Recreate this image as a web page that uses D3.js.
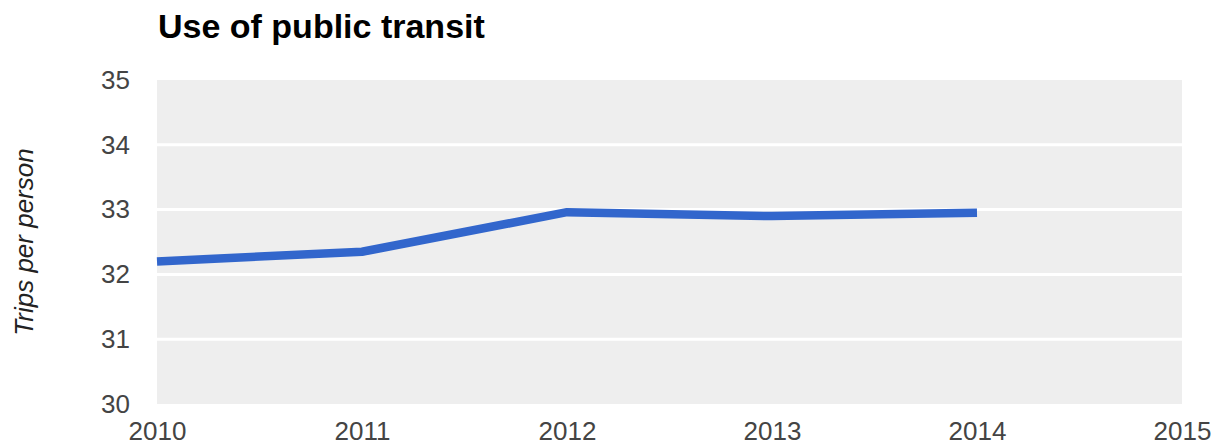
<!DOCTYPE html>
<html>
<head>
<meta charset="utf-8">
<script src="https://cdn.jsdelivr.net/npm/d3@7"></script>
<style>
  body { margin: 0; background: #fff; }
  text { font-family: "Liberation Sans", Arial, sans-serif; }
</style>
</head>
<body>
<svg width="1212" height="446"></svg>
<script>
var years = [2010, 2011, 2012, 2013, 2014];
var trips = [32.2, 32.35, 32.96, 32.9, 32.95];
var yTicks = [30, 31, 32, 33, 34, 35];
var xTicks = [2010, 2011, 2012, 2013, 2014, 2015];

var svg = d3.select('svg');
var plotLeft = 157, plotRight = 1182, plotTop = 80, plotBottom = 404;

var x = d3.scaleLinear().domain([2010, 2015]).range([plotLeft, plotRight]);
var y = d3.scaleLinear().domain([30, 35]).range([plotBottom, plotTop]);

svg.append('rect')
  .attr('x', plotLeft).attr('y', plotTop)
  .attr('width', plotRight - plotLeft).attr('height', plotBottom - plotTop)
  .attr('fill', '#eeeeee');

// gridlines
svg.selectAll('.grid')
  .data(yTicks.slice(1, -1))
  .enter()
  .append('line')
  .attr('x1', plotLeft).attr('x2', plotRight)
  .attr('y1', function(d) { return y(d); })
  .attr('y2', function(d) { return y(d); })
  .attr('stroke', '#fff')
  .attr('stroke-width', 3);

var yAxis = d3.axisLeft(y).tickValues(yTicks).tickFormat(d3.format('d')).tickSize(0).tickPadding(27);
svg.append('g')
  .attr('transform', 'translate(' + plotLeft + ',0)')
  .call(yAxis)
  .call(function(g) { g.select('.domain').remove(); })
  .selectAll('text')
  .attr('font-size', 26)
  .attr('fill', '#444')
  .attr('font-family', '"Liberation Sans", Arial, sans-serif');

var xAxis = d3.axisBottom(x).tickValues(xTicks).tickFormat(d3.format('d')).tickSize(0).tickPadding(18);
svg.append('g')
  .attr('transform', 'translate(0,' + plotBottom + ')')
  .call(xAxis)
  .call(function(g) { g.select('.domain').remove(); })
  .selectAll('text')
  .attr('font-size', 26)
  .attr('fill', '#444')
  .attr('font-family', '"Liberation Sans", Arial, sans-serif');

var line = d3.line()
  .x(function(d, i) { return x(years[i]); })
  .y(function(d) { return y(d); });

svg.append('path')
  .datum(trips)
  .attr('d', line)
  .attr('fill', 'none')
  .attr('stroke', '#3266cc')
  .attr('stroke-width', 8.5)
  .attr('stroke-linejoin', 'round');

svg.append('text')
  .attr('x', plotLeft + 1).attr('y', 38)
  .attr('font-size', 34)
  .attr('font-weight', 'bold')
  .attr('fill', '#000')
  .text('Use of public transit');

svg.append('text')
  .attr('transform', 'translate(33,' + ((plotTop + plotBottom) / 2) + ') rotate(-90)')
  .attr('text-anchor', 'middle')
  .attr('font-size', 26)
  .attr('font-style', 'italic')
  .attr('fill', '#222')
  .text('Trips per person');
</script>
</body>
</html>
